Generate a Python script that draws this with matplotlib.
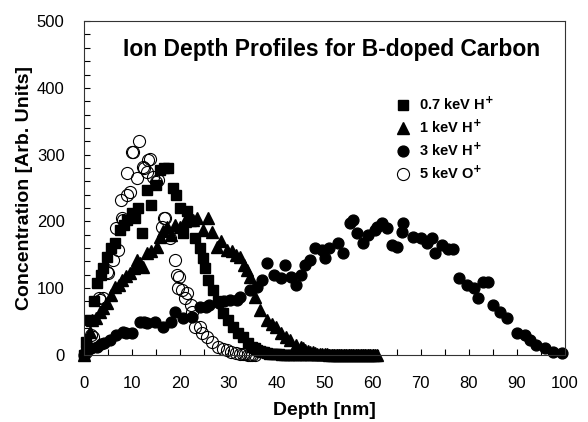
import matplotlib
matplotlib.use("Agg")
import matplotlib.pyplot as plt
from matplotlib.ticker import MultipleLocator

plt.rcParams['font.family'] = ['Liberation Sans', 'DejaVu Sans']

# 0.7 keV H+ (squares)
sq_x = [0, 0.5, 1.2, 2.0, 2.7, 3.5, 4.0, 4.8, 5.5, 6.4, 7.5, 8.2, 8.9, 10.0, 10.6, 11.2,
        12.0, 13.0, 14.0, 15.0, 15.8, 16.6, 17.5, 18.5, 19.2, 20.0, 20.6, 21.5, 22.3,
        23.0, 24.0, 24.7, 25.2, 25.8, 26.8, 27.8, 28.9, 30.0, 31.0, 32.0, 33.0, 34.0,
        35.0, 35.5, 36.0, 36.5, 37.0, 37.5, 38.0, 38.5, 39.0, 39.5, 40.0, 40.5, 41,
        41.5, 42, 42.5, 43, 43.5, 44, 44.5, 45, 45.5, 46, 46.5, 47, 47.5, 48, 48.5, 49,
        49.5, 50, 50.5, 51, 51.5, 52, 52.5, 53, 53.5, 54, 54.5, 55, 55.5, 56, 56.5, 57,
        57.5, 58, 58.5, 59, 59.5, 60]
sq_y = [0, 20, 52, 80, 108, 120, 130, 147, 160, 168, 187, 195, 202, 212, 205, 220,
        183, 247, 225, 255, 277, 280, 280, 250, 240, 220, 183, 215, 200, 175, 160,
        145, 130, 112, 97, 80, 63, 52, 42, 33, 27, 18, 12, 10, 8, 6, 5, 4, 3, 2, 2, 1,
        1, 1, 0, 0, 0, 0, 0, 0, 0, 0, 0, 0, 0, 0, 0, 0, 0, 0, 0, 0, 0, 0, 0, 0, 0, 0,
        0, 0, 0, 0, 0, 0, 0, 0, 0, 0, 0, 0, 0, 0, 0]

# 1 keV H+ (triangles)
tri_x = [0, 0.6, 1.2, 1.7, 2.5, 3.3, 4.0, 4.8, 5.6, 6.4, 7.2, 7.9, 8.7, 9.6, 10.3,
         11.0, 11.7, 12.3, 13.0, 14.0, 15.2, 15.8, 16.5, 17.2, 18.0, 18.8, 20.0, 21.0,
         21.8, 22.7, 23.5, 24.7, 25.8, 26.6, 27.6, 28.4, 29.7, 30.8, 31.6, 32.4, 33.2,
         33.9, 34.5, 35.5, 36.6, 38.0, 39.0, 40.0, 41.0, 42.0, 42.8, 44.0, 45.0, 45.5,
         46, 46.5, 47, 47.5, 48, 48.5, 49, 49.5, 50, 50.5, 51, 51.5, 52, 52.5, 53, 53.5,
         54, 54.5, 55, 55.5, 56, 56.5, 57, 57.5, 58, 58.5, 59, 59.5, 60, 60.5, 61]
tri_y = [0, 20, 35, 52, 55, 65, 70, 78, 90, 102, 105, 112, 118, 123, 130, 142, 138,
         132, 152, 155, 162, 177, 185, 192, 180, 195, 192, 200, 210, 202, 205, 187,
         205, 184, 162, 170, 157, 155, 150, 147, 135, 127, 117, 87, 67, 52, 47, 42,
         33, 27, 22, 15, 12, 10, 8, 6, 5, 4, 3, 2, 2, 1, 1, 1, 0, 0, 0, 0, 0, 0, 0, 0,
         0, 0, 0, 0, 0, 0, 0, 0, 0, 0, 0, 0, 0]

# 3 keV H+ (filled circles)
cir_x = [0.0, 0.6, 1.5, 2.7, 3.5, 4.2, 5.4, 6.6, 8.0, 8.7, 10.0, 11.6, 12.5, 13.0,
         14.8, 16.4, 18.0, 19.0, 20.6, 22.4, 24.0, 25.4, 26.0, 28.0, 29.0, 30.4, 31.8,
         32.4, 34.5, 36.0, 37.0, 38.0, 39.4, 41.0, 41.8, 43.0, 44.0, 45.0, 46.0, 47.0,
         48.0, 49.5, 50.0, 51.0, 52.8, 53.8, 55.3, 56.0, 56.7, 58.0, 59.0, 60.5, 61.0,
         62.0, 63.0, 64.0, 65.0, 66.0, 66.3, 68.4, 70.0, 71.3, 72.3, 73.0, 74.4, 75.7,
         76.7, 78.0, 79.6, 81.0, 82.0, 83.0, 84.0, 85.0, 86.5, 88.0, 90.0, 91.7, 92.7,
         94.0, 95.8, 97.5, 99.4]
cir_y = [0, 7, 10, 12, 16, 18, 22, 30, 35, 33, 33, 50, 50, 48, 50, 42, 50, 65, 55,
         57, 72, 72, 75, 78, 80, 82, 82, 87, 97, 102, 112, 138, 120, 115, 135, 117,
         105, 120, 135, 142, 160, 157, 145, 160, 168, 152, 197, 202, 183, 168, 180,
         187, 192, 197, 190, 165, 162, 184, 197, 177, 175, 168, 175, 152, 165, 159,
         159, 115, 105, 100, 85, 109, 109, 75, 64, 55, 33, 30, 22, 15, 10, 5, 3]

# 5 keV O+ (open circles)
oc_x = [0.3, 0.6, 1.5, 1.9, 3.1, 3.3, 4.0, 4.8, 5.0, 6.0, 6.6, 7.0, 7.7, 7.9, 8.0,
        8.9, 8.9, 9.6, 10.0, 10.2, 11.0, 11.4, 12.3, 12.5, 13.0, 13.3, 13.7, 14.3,
        15.0, 15.4, 16.2, 16.6, 16.8, 17.9, 19.0, 19.3, 19.6, 19.8, 20.4, 21.0, 21.4,
        22.2, 22.4, 23.0, 24.0, 24.6, 25.6, 26.6, 27.9, 28.8, 29.7, 30.6, 31.5, 32.5,
        33.0, 33.5, 34.0, 34.5, 35.0, 35.5]
oc_y = [5, 12, 30, 27, 85, 82, 85, 124, 123, 142, 190, 157, 232, 205, 202, 240, 272,
        244, 304, 304, 265, 320, 282, 280, 274, 292, 293, 267, 259, 262, 192, 205,
        205, 175, 142, 120, 100, 117, 97, 85, 93, 75, 64, 42, 42, 33, 27, 19, 12, 9,
        7, 5, 3, 2, 1, 1, 0, 0, 0, 0]

fig = plt.figure(figsize=(5.88, 4.22), dpi=100)
ax = fig.add_axes([0.143, 0.159, 0.818, 0.791])

ms = 7.5
ax.plot(sq_x, sq_y, 's', color='black', markersize=ms, linestyle='none',
        clip_on=False, label='0.7 keV H$^{\\mathbf{+}}$')
ax.plot(tri_x, tri_y, '^', color='black', markersize=ms + 0.5, linestyle='none',
        clip_on=False, label='1 keV H$^{\\mathbf{+}}$')
ax.plot(cir_x, cir_y, 'o', color='black', markersize=ms + 0.3, linestyle='none',
        clip_on=False, label='3 keV H$^{\\mathbf{+}}$')
ax.plot(oc_x, oc_y, 'o', markerfacecolor='none', markeredgecolor='black',
        markeredgewidth=0.8, markersize=ms + 1.2, linestyle='none',
        clip_on=False, label='5 keV O$^{\\mathbf{+}}$')

ax.set_xlim(0, 100)
ax.set_ylim(0, 500)
ax.xaxis.set_major_locator(MultipleLocator(10))
ax.xaxis.set_minor_locator(MultipleLocator(5))
ax.yaxis.set_major_locator(MultipleLocator(100))
ax.yaxis.set_minor_locator(MultipleLocator(20))
ax.tick_params(which='both', direction='in', length=4, width=0.8,
               top=False, right=False, labelsize=12)
ax.tick_params(axis='x', pad=15)
ax.tick_params(axis='y', pad=14)
for s in ax.spines.values():
    s.set_linewidth(0.8)
    s.set_color('#333333')

ax.set_xlabel('Depth [nm]', fontsize=14, fontweight='bold', labelpad=8)
ax.set_ylabel('Concentration [Arb. Units]', fontsize=14, fontweight='bold', labelpad=3)

ax.text(0.515, 0.915, 'Ion Depth Profiles for B-doped Carbon', transform=ax.transAxes,
        ha='center', va='center', fontsize=16.5, fontweight='bold')

leg = ax.legend(loc='upper left', bbox_to_anchor=(0.635, 0.795), frameon=False,
                prop={'weight': 'bold', 'size': 10.5}, handletextpad=0.6,
                labelspacing=0.4, handlelength=1.0, borderaxespad=0)

fig.savefig('out.png', dpi=100)
